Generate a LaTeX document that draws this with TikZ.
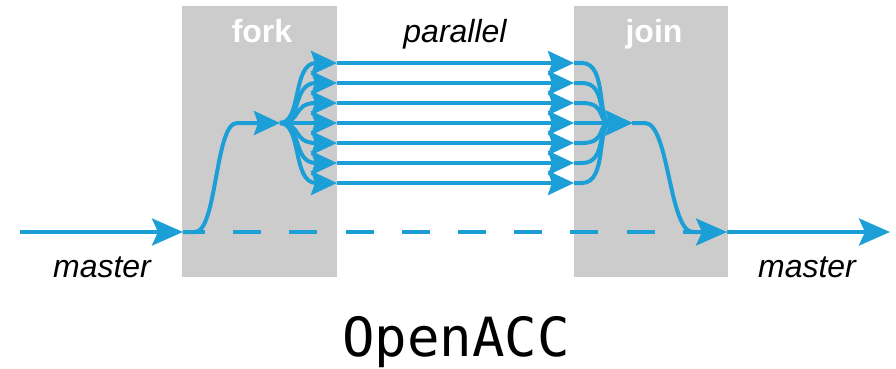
\documentclass[tikz,border=0pt]{standalone}
\usepackage{fontspec}
\setmainfont{Liberation Sans}
\newfontfamily\accfont{DejaVu Sans Mono}
\usetikzlibrary{arrows.meta}
\definecolor{flowblue}{RGB}{28,158,215}
\definecolor{boxgray}{RGB}{204,204,204}
\begin{document}
\begin{tikzpicture}[x=1pt,y=-1pt,
  panel/.style={fill=boxgray, draw=none, inner sep=0pt, anchor=north west},
  flow/.style={draw=flowblue, line width=4pt, -{Stealth[length=26pt,width=24pt,inset=4pt]}},
  mainflow/.style={draw=flowblue, line width=4pt, -{Stealth[length=31pt,width=27pt,inset=6pt]}},
  dashflow/.style={draw=flowblue, line width=4pt, dash pattern=on 28pt off 28.2pt, dash phase=6pt},
  lbl/.style={anchor=base, inner sep=0pt, font=\fontsize{32}{36}\selectfont},
  boxlbl/.style={anchor=base, inner sep=0pt, text=white, font=\fontsize{32}{36}\selectfont\bfseries}]
\useasboundingbox (0,0) rectangle (896,369);
% panels
\node[panel, minimum width=155pt, minimum height=271pt] (forkbox) at (182,6) {};
\node[panel, minimum width=154pt, minimum height=271pt] (joinbox) at (574,6) {};
% labels
\node[boxlbl] (forklbl) at (262,43) {fork};
\node[boxlbl] (joinlbl) at (654,43) {join};
\node[lbl] (parlbl) at (455,43) {\itshape parallel};
\node[lbl] (mlbl1) at (102,277) {\itshape master};
\node[lbl] (mlbl2) at (807,277) {\itshape master};
\node[anchor=base, inner sep=0pt, font=\accfont\fontsize{54}{60}\selectfont] (title) at (456,356) {OpenACC};
% coordinates
\coordinate (min) at (20,232);
\coordinate (f0) at (183,232);
\coordinate (f1) at (280,123);
\coordinate (j1) at (632,123);
\coordinate (j0) at (727,232);
\coordinate (mout) at (890,232);
\foreach \i/\yy in {1/63,2/83,3/103,4/123,5/143,6/163,7/183}{
  \coordinate (a\i) at (337,\yy);
  \coordinate (b\i) at (574,\yy);
}
% dashed master
\draw[dashflow] (f0) -- (j0);
% master in / out
\draw[mainflow] (min) -- (f0);
\draw[mainflow] (j0) -- (mout);
% fork up
\draw[flow] (f0) -- ++(12,0) .. controls +(22,0) and +(-22,0) .. (237,123) -- (f1);
% fan, parallel, converge
\foreach \i in {1,...,7}{
  \draw[flow] (f1) .. controls +(22,0) and +(-45,0) .. (a\i);
  \draw[flow] (a\i) -- (b\i);
  \draw[flow] (b\i) -- ++(8,0) .. controls +(26,0) and +(-36,0) .. (j1);
}
% join down
\draw[mainflow] (j1) -- ++(13,0) .. controls +(24,0) and +(-24,0) .. (693,232) -- (j0);
\end{tikzpicture}
\end{document}
